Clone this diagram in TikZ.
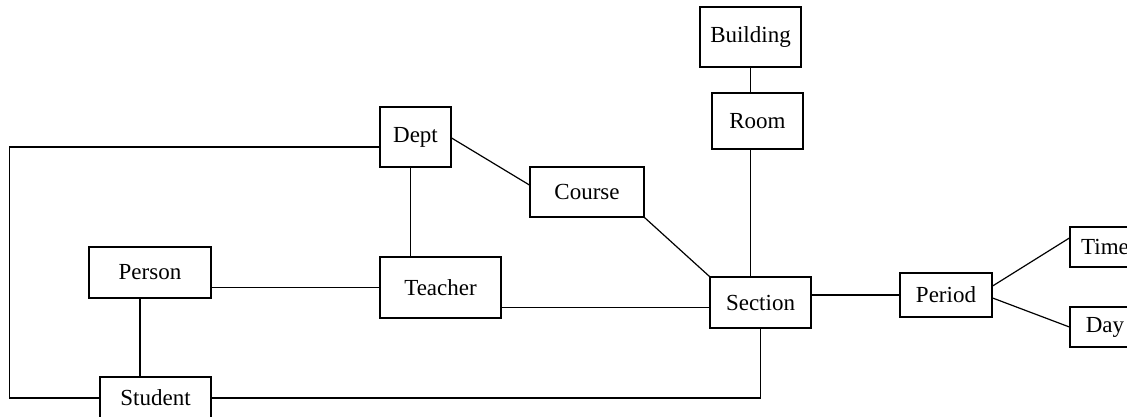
\documentclass[tikz,border=0pt]{standalone}
\usepackage{fontspec}
\setmainfont{Liberation Serif}
\usepackage{tikz}

\begin{document}
\begin{tikzpicture}[x=1pt, y=-1pt, line width=1.2pt,
		ent/.style={draw, rectangle, inner sep=0pt, font=\fontsize{23}{26}\selectfont}]
		\useasboundingbox (0,0) rectangle (1127,417);
		% boxes
		\node[ent, minimum width=101pt, minimum height=60pt] (building) at (750.5,37) {Building};
		\node[ent, minimum width=91pt, minimum height=56pt] (room) at (757.5,121) {Room};
		\node[ent, minimum width=71pt, minimum height=60pt] (dept) at (415.5,137) {Dept};
		\node[ent, minimum width=114pt, minimum height=50pt] (course) at (587,192) {Course};
		\node[ent, minimum width=122pt, minimum height=51pt] (person) at (150,272.5) {Person};
		\node[ent, minimum width=121pt, minimum height=61pt] (teacher) at (440.5,287.5) {Teacher};
		\node[ent, minimum width=101pt, minimum height=51pt] (section) at (760.5,302.5) {Section};
		\node[ent, minimum width=92pt, minimum height=44pt] (period) at (946,295) {Period};
		\node[ent, minimum width=70pt, minimum height=40pt] (time) at (1105,247) {Time};
		\node[ent, minimum width=70pt, minimum height=40pt] (day) at (1105,327) {Day};
		\node[ent, minimum width=111pt, minimum height=42pt] (student) at (155.5,398) {Student};
		% links
		\draw ([yshift=-10pt]dept.west) -| ([xshift=-90pt]student.west) -- (student.west);
		\draw ([yshift=-1pt]dept.east) -- ([yshift=7pt]course.west);
		\draw ([xshift=-5pt]dept.south) -- ([xshift=-5pt]dept.south |- teacher.north);
		\draw (teacher.west) -- (teacher.west -| person.east);
		\draw ([xshift=-10pt]person.south) -- ([xshift=-10pt]person.south |- student.north);
		\draw ([yshift=-20pt]teacher.east) -- ([yshift=-20pt]teacher.east -| section.west);
		\draw (course.south east) -- (section.north west);
		\draw (building.south) -- (building.south |- room.north);
		\draw ([xshift=-7pt]room.south) -- ([xshift=-7pt]room.south |- section.north);
		\draw (section.south) |- (student.east);
		\draw (period.west) -- (period.west -| section.east);
		\draw ([yshift=9pt]period.east) -- ([yshift=9pt]time.west);
		\draw ([yshift=-3pt]period.east) -- (day.west);
	\end{tikzpicture}
\end{document}
